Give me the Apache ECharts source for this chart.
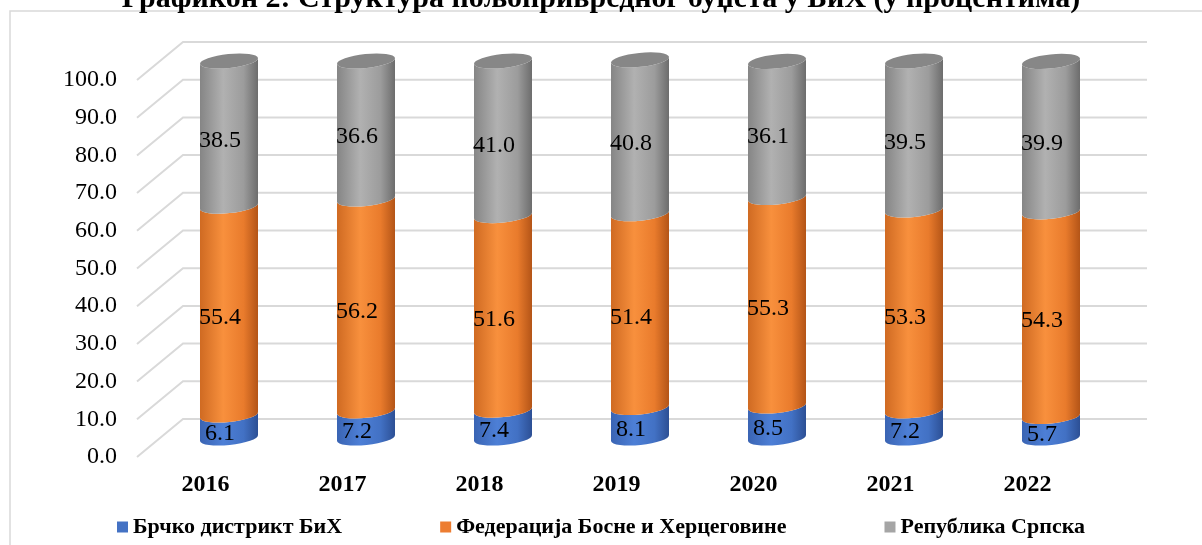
<!DOCTYPE html>
<html style="height: 100%">
<head>
  <meta charset="utf-8">
</head>
<body style="height: 100%; margin: 0; background: #fff">
  <div id="container" style="height: 100%"></div>

  <script type="text/javascript" src="https://cdn.jsdelivr.net/npm/echarts@6/dist/echarts.min.js"></script>
  <script type="text/javascript">
    // data (percent of agricultural budget)
    var years = ['2016', '2017', '2018', '2019', '2020', '2021', '2022'];
    var brcko = [6.1, 7.2, 7.4, 8.1, 8.5, 7.2, 5.7];
    var federacija = [55.4, 56.2, 51.6, 51.4, 55.3, 53.3, 54.3];
    var srpska = [38.5, 36.6, 41.0, 40.8, 36.1, 39.5, 39.9];
    var yTicks = [0, 10, 20, 30, 40, 50, 60, 70, 80, 90, 100];
    var names = ['Брчко дистрикт БиХ', 'Федерација Босне и Херцеговине', 'Република Српска'];

    var serif = '"Liberation Serif", "Times New Roman", serif';
    var DEPTH_X = 46, DEPTH_Y = 38;

    var shades = [
      { base: '#4472C4', stops: ['#3a64b3', '#4d7fd6', '#4271c4', '#2c4f94'] },
      { base: '#ED7D31', stops: ['#cf6a22', '#f8903d', '#e97b2c', '#b35417'] },
      { base: '#A5A5A5', stops: ['#858585', '#b1b1b1', '#9c9c9c', '#6c6c6c'] }
    ];

    // stack the three parts: [index, start, end, value]
    var parts = [brcko, federacija, srpska];
    var stacked = parts.map(function () { return []; });
    years.forEach(function (y, i) {
      var acc = 0;
      parts.forEach(function (arr, k) {
        stacked[k].push([i, acc, acc + arr[i], arr[i]]);
        acc += arr[i];
      });
    });

    function grad(s) {
      return new echarts.graphic.LinearGradient(0, 0, 1, 0, [
        { offset: 0, color: s[0] },
        { offset: 0.4, color: s[1] },
        { offset: 0.75, color: s[2] },
        { offset: 1, color: s[3] }
      ]);
    }

    function cylinder(k) {
      var isTop = k === parts.length - 1;
      return function (params, api) {
        var i = api.value(0);
        var p0 = api.coord([i, api.value(1)]);
        var p1 = api.coord([i, api.value(2)]);
        var cx = p0[0], r = 29, ry = 7, d = 3;
        var y0 = p0[1], y1 = p1[1];
        var rx = Math.sqrt(r * r + d * d);
        var rot = -Math.atan2(d, r) * 180 / Math.PI;
        var arc = ' A ' + rx + ' ' + ry + ' ' + rot + ' 0 ';
        var body = 'M ' + (cx - r) + ' ' + (y1 + d) + arc + '0 ' + (cx + r) + ' ' + (y1 - d) +
          ' L ' + (cx + r) + ' ' + (y0 - d) + arc + '1 ' + (cx - r) + ' ' + (y0 + d) + ' Z';
        var children = [{
          type: 'path',
          shape: { pathData: body },
          style: { fill: grad(shades[k].stops) }
        }];
        if (isTop) {
          var cap = 'M ' + (cx - r) + ' ' + (y1 + d) + arc + '0 ' + (cx + r) + ' ' + (y1 - d) +
            arc + '0 ' + (cx - r) + ' ' + (y1 + d) + ' Z';
          children.push({
            type: 'path',
            shape: { pathData: cap },
            style: { fill: '#878787' }
          });
        }
        children.push({
          type: 'text',
          style: {
            text: api.value(3).toFixed(1),
            x: cx - 9,
            y: (y0 + y1) / 2 + 7,
            align: 'center',
            verticalAlign: 'middle',
            font: '24px ' + serif,
            fill: '#000'
          }
        });
        return { type: 'group', children: children };
      };
    }

    var dom = document.getElementById('container');
    var myChart = echarts.init(dom);

    var series = [{
      type: 'custom',
      xAxisIndex: 0,
      yAxisIndex: 0,
      silent: true,
      z: 1,
      data: yTicks.map(function (v) { return [0, v]; }),
      renderItem: function (params, api) {
        var p = api.coord([0, api.value(1)]);
        var x0 = params.coordSys.x;
        var xb = x0 + params.coordSys.width + 51;
        return {
          type: 'polyline',
          shape: { points: [[x0, p[1]], [x0 + DEPTH_X, p[1] - DEPTH_Y], [xb, p[1] - DEPTH_Y]] },
          style: { stroke: '#d9d9d9', lineWidth: 2, fill: null }
        };
      }
    }];
    names.forEach(function (n, k) {
      series.push({
        name: n,
        type: 'custom',
        xAxisIndex: 1,
        yAxisIndex: 1,
        z: 2,
        itemStyle: { color: shades[k].base },
        encode: { x: 0, y: [1, 2] },
        data: stacked[k],
        renderItem: cylinder(k)
      });
    });

    var option = {
      animation: false,
      title: {
        text: 'Графикон 2: Структура пољопривредног буџета у БиХ (у процентима)',
        left: 'center',
        top: -21,
        textStyle: { fontFamily: serif, fontWeight: 'bold', fontSize: 30, lineHeight: 30, color: '#000' }
      },
      graphic: [{
        type: 'rect',
        shape: { x: 10, y: 11, width: 1250, height: 600 },
        style: { fill: null, stroke: '#d9d9d9', lineWidth: 1.5 },
        silent: true
      }],
      legend: {
        data: names,
        left: 'center',
        top: 511,
        icon: 'rect',
        itemWidth: 11,
        itemHeight: 11,
        itemGap: 98,
        textStyle: { fontFamily: serif, fontWeight: 'bold', fontSize: 22, color: '#000' }
      },
      grid: [
        { left: 137, right: 106, top: 80, bottom: 88 },
        { left: 160.5, right: 82.5, top: 61, bottom: 107 }
      ],
      xAxis: [{
        type: 'category',
        gridIndex: 0,
        data: years,
        axisLine: { show: false },
        axisTick: { show: false },
        axisLabel: { margin: 16, fontFamily: serif, fontWeight: 'bold', fontSize: 24, color: '#000' }
      }, {
        type: 'category',
        gridIndex: 1,
        data: years,
        show: false
      }],
      yAxis: [{
        type: 'value',
        gridIndex: 0,
        min: 0,
        max: 100,
        interval: 10,
        axisLine: { show: false },
        axisTick: { show: false },
        splitLine: { show: false },
        axisLabel: {
          margin: 20,
          fontFamily: serif,
          fontSize: 24,
          color: '#000',
          formatter: function (v) { return v.toFixed(1); }
        }
      }, {
        type: 'value',
        gridIndex: 1,
        min: 0,
        max: 100,
        show: false
      }],
      series: series
    };

    myChart.setOption(option);
  </script>
</body>
</html>
